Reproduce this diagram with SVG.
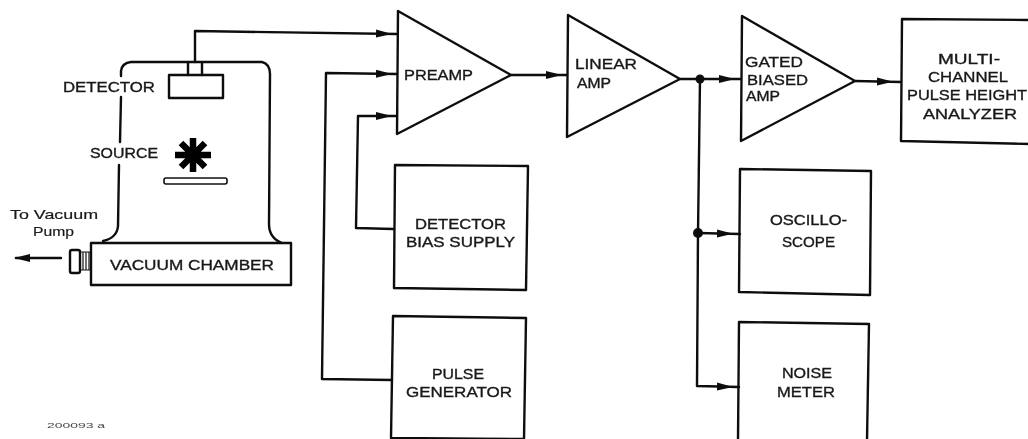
<svg xmlns="http://www.w3.org/2000/svg" width="1028" height="439" viewBox="0 0 1028 439">
<defs>
<marker id="a" markerUnits="userSpaceOnUse" markerWidth="18" markerHeight="10" refX="16" refY="5" orient="auto"><path d="M0 1L16 5L0 9z" fill="#111"/></marker>
<filter id="s" x="-2%" y="-2%" width="104%" height="104%"><feGaussianBlur stdDeviation="0.5"/></filter>
</defs>
<style>
.l{fill:none;stroke:#111;stroke-width:2.4;stroke-linejoin:round;stroke-linecap:round}
.h{fill:none;stroke:none}
.t{font-family:"Liberation Sans",Arial,sans-serif;font-size:14.5px;fill:#1a1a1a;stroke:#1a1a1a;stroke-width:.35}
.m{font-size:13.5px;stroke-width:.2}
.f{font-size:8px;fill:#444;stroke:none}
</style>
<rect width="1028" height="439" fill="#fff"/>
<g filter="url(#s)">
<g id="connectors">
<path class="l" d="M195 62L195 31L397 34"/>
<path class="l" d="M392 380L322 379L326 73L397 74"/>
<path class="l" d="M393 229L356 228L358 116L397 116"/>
<path class="l" d="M511 75L567 75"/>
<path class="l" d="M680 79L741 79"/>
<path class="l" d="M700 79L698 233L697 386L739 387"/>
<path class="l" d="M698 233L740 234"/>
<path class="l" d="M855 81L901 82"/>
<path class="l" d="M61 258L16 258"/>
<path class="h" d="M376 33.5L392 33.9" marker-end="url(#a)"/>
<path class="h" d="M376 73.7L392 73.9" marker-end="url(#a)"/>
<path class="h" d="M376 116L392 116" marker-end="url(#a)"/>
<path class="h" d="M545 75L562 75" marker-end="url(#a)"/>
<path class="h" d="M719 79L735 79" marker-end="url(#a)"/>
<path class="h" d="M877 81.5L893 81.8" marker-end="url(#a)"/>
<path class="h" d="M717 233.5L733 233.8" marker-end="url(#a)"/>
<path class="h" d="M717 386.5L733 386.9" marker-end="url(#a)"/>
<path class="h" d="M30 258L14 258" marker-end="url(#a)"/>
<circle cx="700" cy="79" r="4.5" fill="#111"/>
<circle cx="698" cy="233" r="5" fill="#111"/>
</g>
<g id="vacuum-chamber">
<path class="l" d="M121 76L121 71Q122 63 131 62L262 62Q270 64 270 74L269 224Q269 238 282 243"/>
<path class="l" d="M121 97L120 142M119 165L118 226Q117 238 103 241"/>
<rect class="l" x="91" y="243" width="200" height="42"/>
<rect class="l" x="70" y="250" width="10" height="23" rx="2"/>
<path class="l" d="M80 252L91 252M80 270L91 270M83 252L83 270M86 252L86 270M89 252L89 270" style="stroke-width:1.2"/>
<text class="t" x="110" y="270" textLength="164" lengthAdjust="spacingAndGlyphs">VACUUM CHAMBER</text>
<text class="t m" x="10" y="219" textLength="88" lengthAdjust="spacingAndGlyphs">To Vacuum</text>
<text class="t m" x="33" y="236" textLength="41" lengthAdjust="spacingAndGlyphs">Pump</text>
</g>
<g id="detector">
<rect class="l" x="169" y="75" width="54" height="23"/>
<path class="l" d="M188 63L188 75M202 63L202 75"/>
<text class="t" x="63" y="92" textLength="92" lengthAdjust="spacingAndGlyphs">DETECTOR</text>
</g>
<g id="source">
<g stroke="#000" stroke-width="6.5" stroke-linecap="butt">
<path d="M175 155L211 155M193 138L193 172M181 143L205 167M205 143L181 167"/>
</g>
<rect class="l" x="164" y="178" width="63" height="6" rx="2" style="stroke-width:1.6"/>
<text class="t" x="90" y="158" textLength="68" lengthAdjust="spacingAndGlyphs">SOURCE</text>
</g>
<g id="preamp">
<path class="l" d="M398 11L511 75L397 134Z"/>
<text class="t" x="404" y="80" textLength="69" lengthAdjust="spacingAndGlyphs">PREAMP</text>
</g>
<g id="linear-amp">
<path class="l" d="M568 15L680 79L567 137Z"/>
<text class="t" x="575" y="69" textLength="62" lengthAdjust="spacingAndGlyphs">LINEAR</text>
<text class="t" x="577" y="88" textLength="34" lengthAdjust="spacingAndGlyphs">AMP</text>
</g>
<g id="gated-biased-amp">
<path class="l" d="M742 16L855 81L741 141Z"/>
<text class="t" x="745" y="67" textLength="58" lengthAdjust="spacingAndGlyphs">GATED</text>
<text class="t" x="747" y="85" textLength="61" lengthAdjust="spacingAndGlyphs">BIASED</text>
<text class="t" x="746" y="101" textLength="34" lengthAdjust="spacingAndGlyphs">AMP</text>
</g>
<g id="multichannel">
<path class="l" d="M1030 20L902 19L901 141L1030 144"/>
<text class="t" x="938" y="64" textLength="62" lengthAdjust="spacingAndGlyphs">MULTI-</text>
<text class="t" x="928" y="82" textLength="80" lengthAdjust="spacingAndGlyphs">CHANNEL</text>
<text class="t" x="907" y="100" textLength="120" lengthAdjust="spacingAndGlyphs">PULSE HEIGHT</text>
<text class="t" x="923" y="119" textLength="94" lengthAdjust="spacingAndGlyphs">ANALYZER</text>
</g>
<g id="bias-supply">
<path class="l" d="M395 165L528 166L526 290L394 288Z"/>
<text class="t" x="415" y="229" textLength="91" lengthAdjust="spacingAndGlyphs">DETECTOR</text>
<text class="t" x="406" y="247" textLength="109" lengthAdjust="spacingAndGlyphs">BIAS SUPPLY</text>
</g>
<g id="pulse-generator">
<path class="l" d="M393 316L526 318L524 439L391 438Z"/>
<text class="t" x="432" y="379" textLength="52" lengthAdjust="spacingAndGlyphs">PULSE</text>
<text class="t" x="406" y="397" textLength="106" lengthAdjust="spacingAndGlyphs">GENERATOR</text>
</g>
<g id="oscilloscope">
<path class="l" d="M740 169L871 171L870 295L739 292Z"/>
<text class="t" x="770" y="225" textLength="77" lengthAdjust="spacingAndGlyphs">OSCILLO-</text>
<text class="t" x="782" y="247" textLength="53" lengthAdjust="spacingAndGlyphs">SCOPE</text>
</g>
<g id="noise-meter">
<path class="l" d="M738 440L739 322L869 324L867 440"/>
<text class="t" x="782" y="378" textLength="50" lengthAdjust="spacingAndGlyphs">NOISE</text>
<text class="t" x="777" y="397" textLength="58" lengthAdjust="spacingAndGlyphs">METER</text>
</g>
<text class="t f" x="47" y="428" textLength="58" lengthAdjust="spacingAndGlyphs">200093 a</text>
</g>
</svg>
